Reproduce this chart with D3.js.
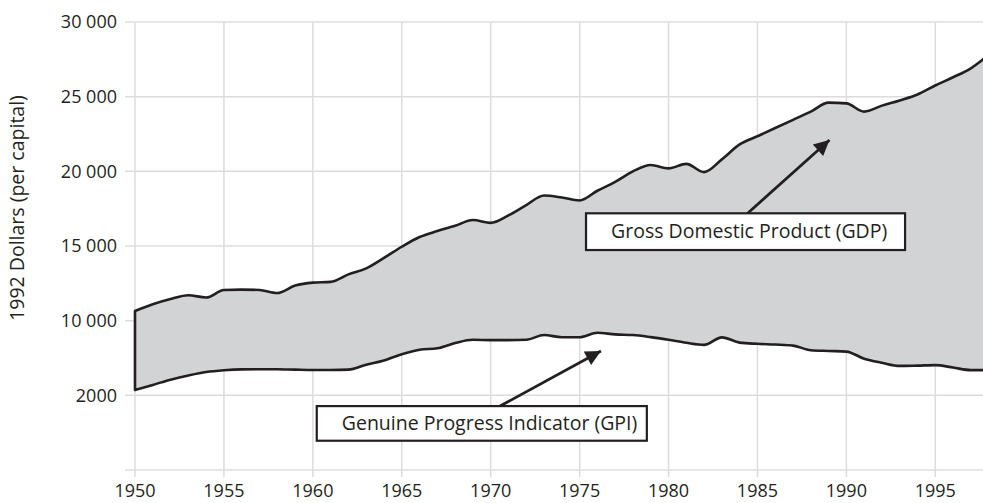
<!DOCTYPE html>
<html>
<head>
<meta charset="utf-8">
<script src="https://cdn.jsdelivr.net/npm/d3@7"></script>
<style>
  html, body { margin: 0; padding: 0; background: #ffffff; }
  svg { display: block; }
  text { font-family: "Open Sans", "Noto Sans", sans-serif; fill: #231f20; }
</style>
</head>
<body>
<svg id="chart" width="983" height="503"></svg>
<script>
// ---- data ----
const years = [1950,1951,1952,1953,1954,1955,1956,1957,1958,1959,
               1960,1961,1962,1963,1964,1965,1966,1967,1968,1969,
               1970,1971,1972,1973,1974,1975,1976,1977,1978,1979,
               1980,1981,1982,1983,1984,1985,1986,1987,1988,1989,
               1990,1991,1992,1993,1994,1995,1996,1997,1998];
const gdp = [10650,11100,11450,11700,11550,12050,12080,12050,11850,12350,
             12550,12600,13100,13500,14200,14950,15600,16000,16350,16740,
             16550,17050,17740,18380,18250,18050,18700,19300,20000,20420,
             20200,20500,19950,20800,21800,22350,22900,23450,24000,24600,
             24550,24000,24400,24750,25150,25750,26300,26900,27800];
const gpi = [5360,5700,6050,6330,6560,6680,6740,6750,6745,6720,
             6700,6700,6720,7050,7330,7750,8050,8150,8500,8720,
             8700,8700,8720,9040,8890,8890,9190,9080,9040,8900,
             8720,8520,8380,8880,8530,8450,8400,8330,8020,7970,
             7930,7450,7180,6970,6990,7020,6860,6690,6690];
const xTickValues = [1950,1955,1960,1965,1970,1975,1980,1985,1990,1995];
const yTickValues = [5000,10000,15000,20000,25000,30000];
const yTickLabels = ["2000","10 000","15 000","20 000","25 000","30 000"];
const yTitle = "1992 Dollars (per capital)";
const gdpLabel = "Gross Domestic Product (GDP)";
const gpiLabel = "Genuine Progress Indicator (GPI)";

// ---- scales ----
const svg = d3.select("#chart");
const x = d3.scaleLinear().domain([1950, 1995]).range([135, 935.3]);
const y = d3.scaleLinear().domain([0, 30000]).range([470, 22]);

const gridColor = "#dcdcdc";
const ink = "#231f20";

// gridlines
const grid = svg.append("g");
grid.selectAll("line.h").data([0].concat(yTickValues)).enter().append("line")
  .attr("x1", 125).attr("x2", 983)
  .attr("y1", d => y(d)).attr("y2", d => y(d))
  .attr("stroke", gridColor).attr("stroke-width", 1.5);
grid.selectAll("line.v").data(xTickValues).enter().append("line")
  .attr("x1", d => x(d)).attr("x2", d => x(d))
  .attr("y1", y(30000)).attr("y2", y(0) + 7)
  .attr("stroke", gridColor).attr("stroke-width", 1.5);

// area
const data = years.map((yr, i) => ({ yr, hi: gdp[i], lo: gpi[i] }));
const area = d3.area()
  .x(d => x(d.yr)).y0(d => y(d.lo)).y1(d => y(d.hi))
  .curve(d3.curveMonotoneX);
svg.append("path").datum(data)
  .attr("d", area)
  .attr("fill", "#d1d3d4")
  .attr("stroke", ink).attr("stroke-width", 2.6)
  .attr("stroke-linejoin", "round");

// axis labels
svg.append("g").selectAll("text").data(yTickValues).enter().append("text")
  .attr("x", 117).attr("y", d => y(d)).attr("dy", "0.35em")
  .attr("text-anchor", "end").attr("font-size", 18)
  .text((d, i) => yTickLabels[i]);
svg.append("g").selectAll("text").data(xTickValues).enter().append("text")
  .attr("x", d => x(d)).attr("y", 497)
  .attr("text-anchor", "middle").attr("font-size", 18)
  .text(d => d);
svg.append("text")
  .attr("transform", "translate(24,208) rotate(-90)")
  .attr("text-anchor", "middle").attr("font-size", 19.5)
  .text(yTitle);

// annotations
const defs = svg.append("defs");
defs.append("marker").attr("id", "arrow")
  .attr("viewBox", "0 0 10 10").attr("refX", 10).attr("refY", 5)
  .attr("markerWidth", 9).attr("markerHeight", 5.5)
  .attr("markerUnits", "strokeWidth").attr("orient", "auto")
  .append("path").attr("d", "M0,0 L10,5 L0,10 z").attr("fill", ink);

function annotate(label, box, from, tip) {
  const g = svg.append("g");
  g.append("line")
    .attr("x1", x(from[0])).attr("y1", y(from[1]))
    .attr("x2", x(tip[0])).attr("y2", y(tip[1]))
    .attr("stroke", ink).attr("stroke-width", 2.8)
    .attr("marker-end", "url(#arrow)");
  const bx = x(box[0]), by = y(box[1]);
  const bw = x(box[2]) - bx, bh = y(box[3]) - by;
  g.append("rect").attr("x", bx).attr("y", by).attr("width", bw).attr("height", bh)
    .attr("fill", "#ffffff").attr("stroke", ink).attr("stroke-width", 2.2);
  g.append("text").attr("x", bx + 25).attr("y", by + bh / 2).attr("dy", "0.35em")
    .attr("font-size", 19.5).text(label);
}
// box given as (x1, yTop, x2, yBottom) in data coordinates
annotate(gdpLabel, [1975.36, 17190, 1993.3, 14730], [1984.45, 17190], [1989.05, 22100]);
annotate(gpiLabel, [1960.22, 4280, 1978.78, 1960], [1970.53, 4280], [1976.2, 7970]);
</script>
</body>
</html>
